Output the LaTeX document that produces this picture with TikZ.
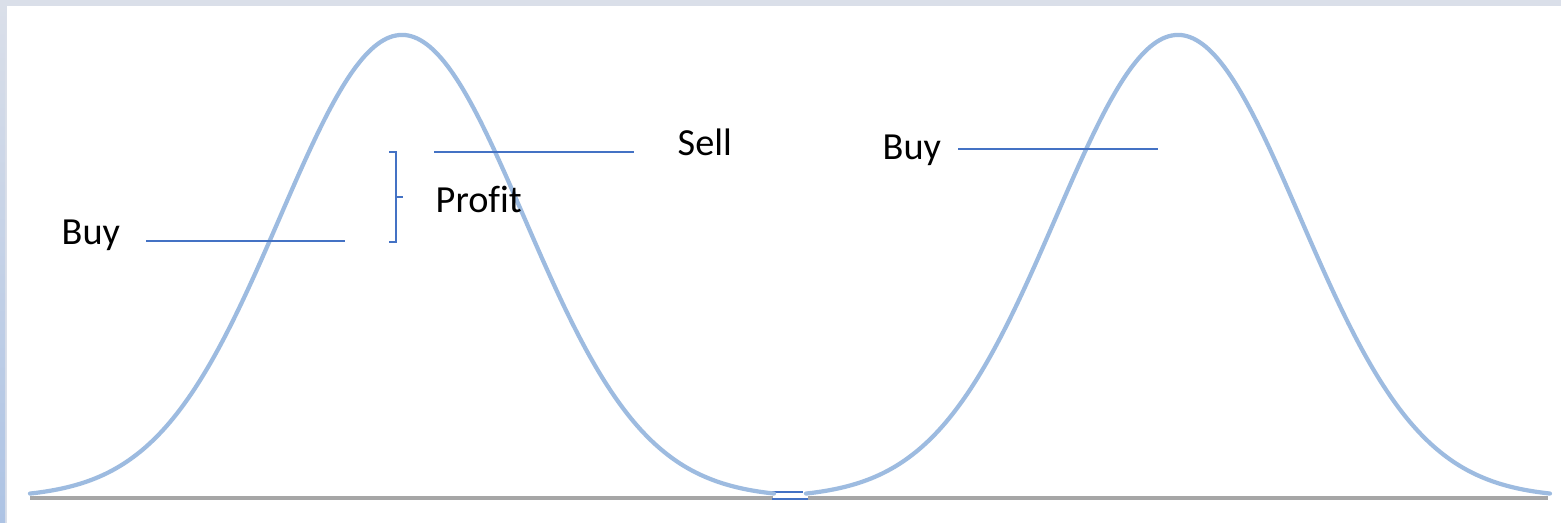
\documentclass[tikz,border=0pt]{standalone}
\usepackage{fontspec}
\setmainfont{Carlito}[Ligatures=CommonOff]
\definecolor{bellblue}{HTML}{9DBBE0}
\definecolor{markblue}{HTML}{4472C4}
\definecolor{framegray}{HTML}{DADFE9}
\definecolor{stripblue}{HTML}{ADC3E4}
\definecolor{axisgray}{HTML}{A6A6A6}
\tikzset{
  bell/.style={bellblue,line width=1.2pt,line cap=round},
  axis/.style={axisgray,line width=0.9pt},
  markline/.style={markblue,line width=0.4pt},
  lbl/.style={inner sep=0pt,anchor=base west,font=\fontsize{10.9pt}{12pt}\selectfont}
}
\begin{document}
\begin{tikzpicture}
    % frame
    \fill[framegray] (0,0) rectangle (15.61,5.23);
    \shade[top color=framegray,bottom color=stripblue] (0,0) rectangle (0.05,5.17);
    \fill[white] (0.07,0) rectangle (15.61,5.17);
    \useasboundingbox (0,0) rectangle (15.61,5.23);
    % axis pieces
    \draw[axis] (0.30,0.25) -- (7.73,0.25);
    \draw[axis] (8.08,0.25) -- (15.48,0.25);
    \coordinate (g1) at (7.66,0.31);
    \coordinate (g2) at (8.03,0.31);
    \coordinate (g3) at (7.72,0.24);
    \coordinate (g4) at (8.08,0.24);
    \draw[markline] (g1) -- (g2);
    \draw[markline] (g3) -- (g4);
    % the two bells
    \foreach \m in {4.02,11.78}
      \draw[bell] plot[domain=\m-3.72:\m+3.72,samples=120,smooth]
        (\x,{0.25+4.63*exp(-(\x-\m)*(\x-\m)/2.977)});
    % labels
    \node[lbl] (buyL) at (0.61,2.78) {Buy};
    \node[lbl] (sell) at (6.77,3.67) {Sell};
    \node[lbl] (profit) at (4.35,3.10) {Profit};
    \node[lbl] (buyR) at (8.82,3.63) {Buy};
    % price lines
    \coordinate (bl1) at (1.46,2.82);
    \coordinate (bl2) at (3.45,2.82);
    \coordinate (sl1) at (4.34,3.71);
    \coordinate (sl2) at (6.34,3.71);
    \coordinate (br1) at (9.58,3.74);
    \coordinate (br2) at (11.58,3.74);
    \draw[markline] (bl1) -- (bl2);
    \draw[markline] (sl1) -- (sl2);
    \draw[markline] (br1) -- (br2);
    % profit bracket
    \coordinate (pt) at (3.96,3.71);
    \coordinate (pb) at (3.96,2.81);
    \coordinate (pm) at (3.96,3.26);
    \draw[markline] ([xshift=-0.07cm]pt) -- (pt) -- (pb) -- ([xshift=-0.07cm]pb);
    \draw[markline] (pm) -- ([xshift=0.07cm]pm);
\end{tikzpicture}
\end{document}
